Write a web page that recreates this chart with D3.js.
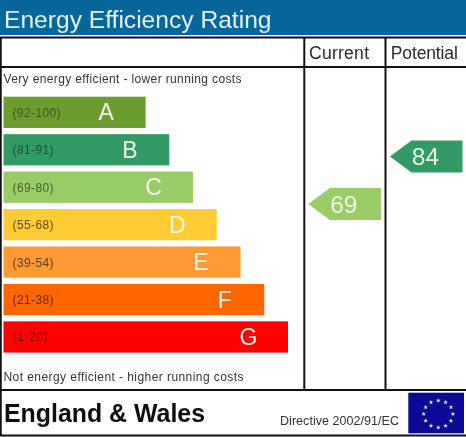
<!DOCTYPE html>
<html><head><meta charset="utf-8">
<script src="https://cdn.jsdelivr.net/npm/d3@7/dist/d3.min.js"></script>
<style>html,body{margin:0;padding:0;background:#fff;overflow:hidden}svg{display:block;filter:blur(0.4px)}text{font-family:"Liberation Sans",Arial,sans-serif}</style>
</head><body><svg id="c" width="466" height="437"></svg>
<script>
const title = "Energy Efficiency Rating";
const columns = ["Current", "Potential"];
const letters = ["A","B","C","D","E","F","G"];
const ranges = ["(92-100)","(81-91)","(69-80)","(55-68)","(39-54)","(21-38)","(1-20)"];
const barColors = ["#6c9b2e","#319a65","#99cc66","#ffcc33","#ff9933","#ff6600","#ff0000"];
const rangeColors = ["#3a5518","#1a5236","#46602e","#5f4d12","#5f3a12","#5f2600","#8a0000"];
const scores = [69, 84];
const scoreColors = ["#99cc66","#319a65"];
const topNote = "Very energy efficient - lower running costs";
const bottomNote = "Not energy efficient - higher running costs";
const region = "England & Wales";
const directive = "Directive 2002/91/EC";
const starIndex = d3.range(12);

const svg = d3.select("#c");
const y = d3.scaleBand().domain(letters).range([96.7,352.6]).paddingInner(0.165).paddingOuter(0);
const rank = d3.scaleLinear().domain([0,6]).range([145.6,288]);
const colX = d3.scaleOrdinal().domain(columns).range([[308.3,381],[390,462.5]]);
const scoreY = d3.scaleLinear().domain([100,0]).range([105.9,422.5]);

svg.append("rect").attr("x",-2).attr("y",-2).attr("width",470).attr("height",37).attr("fill","#07679b");
svg.append("text").attr("x",4).attr("y",27.5).attr("font-size",24.6).attr("fill","#e4f1f8").text(title);

svg.selectAll("rect.bar").data(letters).join("rect").attr("class","bar")
  .attr("x",3.5).attr("y",d=>y(d)).attr("height",y.bandwidth())
  .attr("width",(d,i)=>rank(i)-3.5).attr("fill",(d,i)=>barColors[i]);
svg.selectAll("text.rng").data(ranges).join("text").attr("class","rng")
  .attr("x",12.5).attr("y",(d,i)=>y(letters[i])+y.bandwidth()/2+4.5)
  .attr("font-size",12).attr("fill",(d,i)=>rangeColors[i]).attr("textLength",(d,i)=>i==0?48:i==6?35:41).text(d=>d);
svg.selectAll("text.let").data(letters).join("text").attr("class","let")
  .attr("x",(d,i)=>rank(i)-39.5).attr("y",d=>y(d)+y.bandwidth()/2+8)
  .attr("text-anchor","middle").attr("font-size",23).attr("fill","#f4f8ee").text(d=>d);

svg.append("text").attr("x",3.5).attr("y",83).attr("font-size",12).attr("fill","#333").attr("textLength",238).text(topNote);
svg.append("text").attr("x",3.5).attr("y",381).attr("font-size",12).attr("fill","#333").attr("textLength",240).text(bottomNote);

const line = d3.line();
scores.forEach((s,i)=>{
  const [x0,x1]=colX(columns[i]), c=scoreY(s), h=16, shoulder=x0+21.5;
  svg.append("path").attr("fill",scoreColors[i])
    .attr("d",line([[x0,c],[shoulder,c-h],[x1,c-h],[x1,c+h],[shoulder,c+h]])+"Z");
  svg.append("text").attr("x",x0+35.5).attr("y",c+8.8).attr("text-anchor","middle")
    .attr("font-size",24.5).attr("fill","#eef6e6").text(s);
});

const stroke=(x1,y1,x2,y2,w=2)=>svg.append("line").attr("x1",x1).attr("y1",y1).attr("x2",x2).attr("y2",y2).attr("stroke","#111").attr("stroke-width",w);
stroke(0,37.5,468,37.5); stroke(0,67,468,67); stroke(0,390,468,390); stroke(0,435.5,468,435.5);
stroke(0.75,37,0.75,436); stroke(304.3,37,304.3,390); stroke(385.5,37,385.5,390);

const colC=[339,424.3], colW=[60,67];
columns.forEach((c,i)=>svg.append("text").attr("x",colC[i]-colW[i]/2).attr("y",59)
  .attr("font-size",17.5).attr("fill","#2a2a30").attr("textLength",colW[i]).text(c));

svg.append("text").attr("x",4).attr("y",422).attr("font-size",24.9).attr("font-weight","bold").attr("fill","#0c0c14").text(region);
svg.append("text").attr("x",280).attr("y",425).attr("font-size",12.5).attr("fill","#333").attr("textLength",119).text(directive);

svg.append("rect").attr("x",408.3).attr("y",392.7).attr("width",55.7).attr("height",40.6).attr("fill","#0a0a96");
const star=d3.symbol().type(d3.symbolStar).size(7);
svg.selectAll("path.st").data(starIndex).join("path").attr("class","st")
  .attr("d",star).attr("fill","#f4ecA0")
  .attr("transform",d=>{const a=d/12*2*Math.PI;return `translate(${438.3+14.6*Math.sin(a)},${414-13.5*Math.cos(a)})`;});
</script></body></html>
